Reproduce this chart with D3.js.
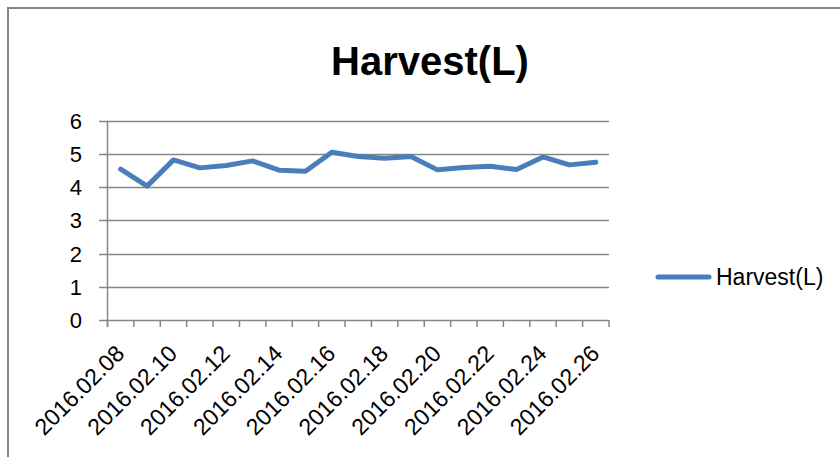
<!DOCTYPE html>
<html>
<head>
<meta charset="utf-8">
<script src="https://cdn.jsdelivr.net/npm/d3@7"></script>
<style>
  body { margin: 0; background: #fff; }
  svg { display: block; font-family: "Liberation Sans", Arial, sans-serif; }
</style>
</head>
<body>
<svg id="chart" width="840" height="457"></svg>
<script>
// category labels (one per day)
var dates = ["2016.02.08", "2016.02.09", "2016.02.10", "2016.02.11", "2016.02.12",
  "2016.02.13", "2016.02.14", "2016.02.15", "2016.02.16", "2016.02.17",
  "2016.02.18", "2016.02.19", "2016.02.20", "2016.02.21", "2016.02.22",
  "2016.02.23", "2016.02.24", "2016.02.25", "2016.02.26"];
// harvest values
var harvest = [4.54, 4.03, 4.82, 4.58, 4.65, 4.79, 4.51, 4.48, 5.05, 4.92,
  4.87, 4.92, 4.52, 4.59, 4.63, 4.53, 4.91, 4.67, 4.75];
var yTicks = [0, 1, 2, 3, 4, 5, 6];
var seriesName = "Harvest(L)";

var gray = "#868686";
var blue = "#4a7ebb";

var svg = d3.select("#chart");

// outer frame (left + top edge visible)
svg.append("path")
  .attr("d", "M8,457 L8,8 L840,8")
  .attr("fill", "none")
  .attr("stroke", gray)
  .attr("stroke-width", 2);

// title
svg.append("text")
  .attr("x", 430)
  .attr("y", 75)
  .attr("text-anchor", "middle")
  .attr("font-size", 40)
  .attr("font-weight", "bold")
  .attr("fill", "#000")
  .text(seriesName);

var x = d3.scaleBand()
  .domain(dates)
  .range([107.5, 609])
  .padding(0);

var y = d3.scaleLinear()
  .domain([0, 6])
  .range([320, 120.7]);

// gridlines + y tick marks
svg.append("g").selectAll("line")
  .data(yTicks)
  .enter().append("line")
  .attr("x1", 99)
  .attr("x2", 609)
  .attr("y1", function (d) { return Math.round(y(d)) + 0.5; })
  .attr("y2", function (d) { return Math.round(y(d)) + 0.5; })
  .attr("stroke", gray)
  .attr("stroke-width", 1.5);

// y labels
svg.append("g").selectAll("text")
  .data(yTicks)
  .enter().append("text")
  .attr("x", 82)
  .attr("y", function (d) { return y(d) + 8; })
  .attr("text-anchor", "end")
  .attr("font-size", 22)
  .attr("fill", "#000")
  .text(function (d) { return d; });

// y axis line
svg.append("line")
  .attr("x1", 107.5).attr("x2", 107.5)
  .attr("y1", y(6)).attr("y2", 327)
  .attr("stroke", gray)
  .attr("stroke-width", 1.5);

// x tick marks at category boundaries
var bounds = dates.map(function (d) { return x(d); }).concat([x.range()[1]]);
svg.append("g").selectAll("line")
  .data(bounds)
  .enter().append("line")
  .attr("x1", function (d) { return d; })
  .attr("x2", function (d) { return d; })
  .attr("y1", 320)
  .attr("y2", 327)
  .attr("stroke", gray)
  .attr("stroke-width", 1.5);

// x labels, every other day, rotated
svg.append("g").selectAll("text")
  .data(dates.filter(function (d, i) { return i % 2 == 0; }))
  .enter().append("text")
  .attr("text-anchor", "end")
  .attr("font-size", 23)
  .attr("fill", "#000")
  .attr("transform", function (d) {
    return "translate(" + (x(d) + x.bandwidth() / 2 + 5) + ",355) rotate(-45)";
  })
  .text(function (d) { return d; });

// the series line
var line = d3.line()
  .x(function (d, i) { return x(dates[i]) + x.bandwidth() / 2; })
  .y(function (d) { return y(d); });

svg.append("path")
  .datum(harvest)
  .attr("d", line)
  .attr("fill", "none")
  .attr("stroke", blue)
  .attr("stroke-width", 5)
  .attr("stroke-linejoin", "round")
  .attr("stroke-linecap", "round");

// legend
svg.append("line")
  .attr("x1", 658).attr("x2", 709)
  .attr("y1", 277).attr("y2", 277)
  .attr("stroke", blue)
  .attr("stroke-width", 5)
  .attr("stroke-linecap", "round");

svg.append("text")
  .attr("x", 716)
  .attr("y", 285)
  .attr("font-size", 23)
  .attr("fill", "#000")
  .text(seriesName);
</script>
</body>
</html>
